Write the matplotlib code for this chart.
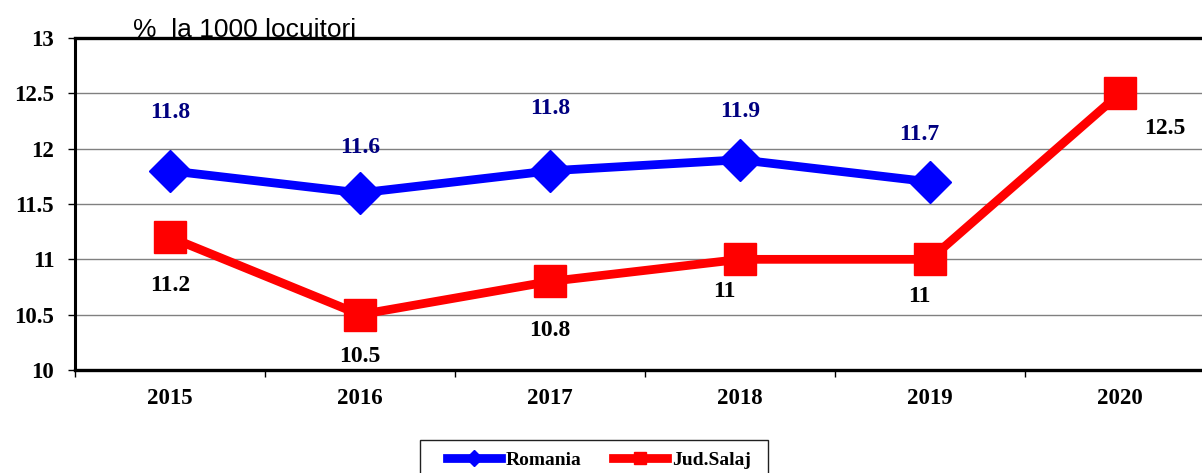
import matplotlib
matplotlib.use("Agg")
import matplotlib.pyplot as plt
from matplotlib.patches import Rectangle
import numpy as np

years = ["2015", "2016", "2017", "2018", "2019", "2020"]
romania = [11.8, 11.6, 11.8, 11.9, 11.7]
salaj = [11.2, 10.5, 10.8, 11.0, 11.0, 12.5]
romania_labels = ["11.8", "11.6", "11.8", "11.9", "11.7"]
salaj_labels = ["11.2", "10.5", "10.8", "11", "11", "12.5"]
yticks = [10, 10.5, 11, 11.5, 12, 12.5, 13]
ytick_labels = ["10", "10.5", "11", "11.5", "12", "12.5", "13"]

# label offsets in points (dx, dy)
rom_off = [(0, 42), (0, 33), (0, 45), (0, 35), (-8, 34)]
sal_off = [(0, -35), (0, -30), (0, -35), (-11, -23), (-8, -27), (32, -25)]

serif = ["Liberation Serif", "DejaVu Serif"]

fig = plt.figure(figsize=(12.02, 4.73), dpi=100)
ax = fig.add_axes([75 / 1202, 1 - 370 / 473, 1140 / 1202, (370 - 38) / 473])

x = np.arange(len(years))
ax.plot(x[:len(romania)], romania, color="#0000FF", lw=6.3, marker="D", ms=21,
        markeredgecolor="#0000FF", label="Romania", zorder=3, clip_on=False)
ax.plot(x, salaj, color="#FF0000", lw=6.3, marker="s", ms=22.5,
        markeredgecolor="#FF0000", label="Jud.Salaj", zorder=3, clip_on=False)

for i, (v, t) in enumerate(zip(romania, romania_labels)):
    ax.annotate(t, (x[i], v), xytext=rom_off[i], textcoords="offset points",
                ha="center", va="center", color="#000080", fontsize=17,
                fontweight="bold", family=serif)
for i, (v, t) in enumerate(zip(salaj, salaj_labels)):
    ax.annotate(t, (x[i], v), xytext=sal_off[i], textcoords="offset points",
                ha="center", va="center", color="black", fontsize=17,
                fontweight="bold", family=serif)

ax.set_xlim(-0.5, len(years) - 0.5)
ax.set_ylim(10, 13)
ax.set_yticks(yticks)
ax.set_yticklabels(ytick_labels, fontsize=16.5, fontweight="bold", family=serif)
ax.set_xticks(x)
ax.set_xticklabels(years, fontsize=16.5, fontweight="bold", family=serif)
ax.set_xticks(np.arange(len(years) + 1) - 0.5, minor=True)
ax.tick_params(axis="x", which="major", length=0, pad=13)
ax.tick_params(axis="x", which="minor", length=5, width=1, direction="out")
ax.tick_params(axis="y", length=5, width=1, direction="out", pad=10)

ax.grid(axis="y", color="#808080", lw=1)
ax.set_axisbelow(True)
for s in ["top", "bottom"]:
    ax.spines[s].set_linewidth(2.4)
ax.spines["left"].set_linewidth(2.2)
ax.spines["right"].set_visible(False)

fig.text(133 / 1202, 1 - 37 / 473, "%  la 1000 locuitori", ha="left", va="baseline",
         fontsize=19, family=["Liberation Sans", "DejaVu Sans"])

leg = fig.legend(loc="center", bbox_to_anchor=(599 / 1202, 1 - 460 / 473), ncol=2,
                 frameon=False,
                 prop={"family": serif, "weight": "bold", "size": 14},
                 handlelength=2.8, columnspacing=1.6, handletextpad=0.25,
                 markerscale=0.4, borderpad=0.4)
fig.patches.append(Rectangle((420 / 1202, 1 - 490 / 473), 348 / 1202, 50 / 473,
                             transform=fig.transFigure, fill=False,
                             edgecolor="#202020", lw=1))

fig.savefig("out.png", dpi=100)
